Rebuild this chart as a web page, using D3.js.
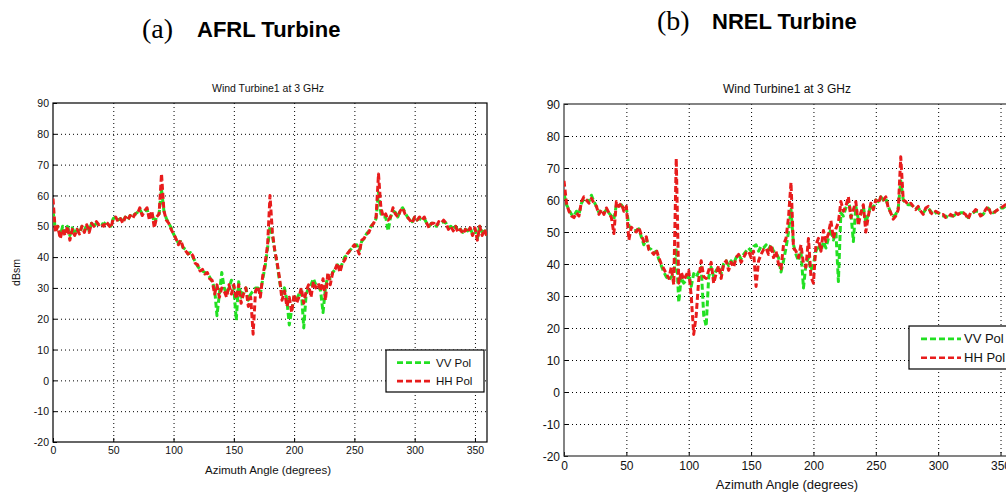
<!DOCTYPE html>
<html lang="en">
<head>
    <meta charset="UTF-8">
    <title>wind-turbine-rcs</title>
    <script src="https://cdn.jsdelivr.net/npm/d3@7"></script>
    <style>
        body{ margin: 0; background: #fff; }
        svg text{ font-family: "Liberation Sans", Arial, sans-serif; }
        .grid line{ stroke: #000; stroke-width: 1; stroke-dasharray: 1,3; }
    </style>
</head>
<body>
<svg class="graph"></svg>
<script>
    var width = 1006, height = 493;

    // azimuth samples every 2 degrees, 0..360
    var angles = d3.range(0, 361, 2);
    var xTicks = [0, 50, 100, 150, 200, 250, 300, 350];
    var yTicks = [-20, -10, 0, 10, 20, 30, 40, 50, 60, 70, 80, 90];

    // (a) AFRL turbine
    var afrlHH = [
        59, 48, 50, 46, 49, 47, 50, 45.5, 49, 47, 49, 47.5, 50, 48, 50.5, 48, 51, 50, 51.5, 50.5,
        51, 50, 51.5, 50.5, 49.5, 52.5, 53, 51.5, 52.5, 51, 53, 52, 53.5, 52.5, 54, 54, 56, 53.5, 55, 56,
        52, 55, 49.5, 53, 54, 67, 55, 52, 51, 49, 47.5, 46, 44, 45.5, 43, 42, 41, 41.5, 40.5, 38,
        37.5, 35.5, 36, 34.5, 35, 33, 32.5, 28, 31, 27, 30, 29, 27, 31, 28, 31, 26.5, 31, 25, 28,
        30, 24, 27, 15, 29, 30.5, 27, 34, 38, 44, 60, 48, 42, 38, 33, 26, 29, 24, 27, 22,
        28, 25, 27, 30, 25, 29, 31, 27, 32, 30, 31.5, 29, 33, 26, 35, 31, 35, 36, 38, 35,
        38, 39, 41, 42, 43, 44, 43, 41, 45.5, 46, 47.5, 48, 50, 51, 53, 67, 56, 53, 54, 52,
        53, 56, 54, 53, 55, 56, 54, 53, 52, 51, 53, 52, 53, 52, 53, 51, 49.5, 51, 51, 50,
        51.5, 51, 52, 51, 49, 50, 48.5, 50, 48, 49, 47.5, 49, 48, 49.5, 47, 49.5, 45.5, 50, 47, 49,
        46.5
    ];
    var afrlVV = [
        55, 49, 50, 47, 50, 48, 50, 47, 49.5, 47.5, 49, 48, 50, 48.5, 50.5, 48.5, 51, 50, 51, 50.5,
        51, 50.5, 51.5, 50.5, 50, 52.5, 53, 52, 52.5, 51.5, 53, 52, 53.5, 53, 54, 54.5, 55.5, 54, 55, 55.5,
        53, 54.5, 51, 53, 54, 62, 55, 52.5, 51, 49.5, 47.5, 46, 44.5, 45, 43, 42.5, 41, 41.5, 40, 38.5,
        37, 36, 35.5, 35, 34.5, 33.5, 32, 30, 21, 28, 35, 30, 28, 30, 32.5, 30, 19.5, 32, 27, 29,
        30, 26, 28, 29, 30, 30, 28, 33, 37, 43, 50, 47, 42, 37.5, 32, 28, 30, 26, 18, 23,
        27, 26, 28, 29, 17, 28, 30, 31, 33, 31, 31, 29, 22, 30, 34, 33, 35, 36, 37.5, 36,
        38, 40, 40.5, 42, 43, 43.5, 44, 42, 45, 46, 47.5, 48.5, 50, 51, 52.5, 61, 54, 53, 53, 48.5,
        53, 55, 54.5, 53, 55, 56, 54.5, 53, 52, 51.5, 53, 52, 52.5, 52, 52.5, 51, 50, 51, 51, 50,
        51, 51, 51.5, 51, 49.5, 50, 49, 50, 48.5, 49, 48, 49, 48.5, 49.5, 47.5, 49, 46, 50, 48, 48.5,
        47
    ];

    // (b) NREL turbine
    var nrelHH = [
        66, 59, 56.5, 55, 54.5, 56, 55, 59.5, 61, 60, 59, 60.5, 59, 58, 55.5, 57, 55.5, 57.5, 56, 54.5,
        49.5, 59.5, 58, 59, 56.5, 58, 47.5, 51.5, 50.5, 50, 51.5, 49, 47, 48.5, 44.5, 44, 43, 44.5, 42, 40,
        38.5, 37, 35.5, 39, 33.5, 73, 34, 37.5, 35, 36.5, 38, 30, 18, 24, 35, 41, 36, 35.5, 38, 40.5,
        34, 37, 39.5, 35.5, 40, 41, 38, 40.5, 39, 42, 43, 40.5, 42, 43.5, 44, 42, 44, 33, 41, 43,
        44.5, 45, 43, 46, 42, 44, 40, 38.5, 46, 48, 54.5, 65.5, 45, 44, 42, 46, 40, 39, 48, 36,
        34, 46, 48, 44, 50.5, 47, 49.5, 53.5, 48, 51, 53, 59.5, 56.5, 58, 61, 54.5, 57, 59.5, 52, 56,
        58.5, 50, 55, 59, 57, 60, 59, 61, 60, 61, 57.5, 56, 54, 55, 57, 73.5, 60, 59.5, 58.5, 59,
        58, 57, 58, 56.5, 55.5, 57.5, 58, 56, 55.5, 56.5, 56, 55.5, 55.5, 54.5, 54.5, 55.5, 55, 56, 55.5, 56,
        56, 55.5, 54, 56, 56, 57, 56.5, 55, 55.5, 57, 58, 56, 55.5, 56.5, 57, 57.5, 58, 58.5, 57, 58,
        57.5
    ];
    var nrelVV = [
        62, 58.5, 57, 55.5, 55, 56.5, 55.5, 59, 60.5, 60, 59.5, 61.5, 59.5, 58, 56, 57, 56, 57, 56, 55,
        54, 58.5, 58, 58.5, 57, 57.5, 52, 51, 50.5, 50.5, 51, 48.5, 46, 48, 45, 44.5, 43.5, 44, 41.5, 39.5,
        37.5, 36, 35, 36, 36.5, 45, 28, 36, 34, 35, 37, 33, 37, 36, 37.5, 39, 24, 20.5, 36, 39,
        36, 38, 39, 37, 40, 41, 39.5, 41, 40, 42, 43, 41.5, 43, 44, 45, 44, 45.5, 46, 44, 45.5,
        45, 46, 44.5, 46, 44, 43.5, 42, 37.5, 41, 45, 50, 57, 46, 43, 41, 44, 32.5, 40, 42, 38,
        40, 44, 46, 44, 47, 45, 48, 51, 47.5, 50, 34.5, 56, 55, 57.5, 60, 56, 47, 58, 54, 55.5,
        58, 53, 55.5, 58.5, 57.5, 60, 59.5, 61, 60, 60.5, 58, 56, 55, 55.5, 57.5, 66, 60, 59, 58.5, 58.5,
        58, 57.5, 57.5, 56.5, 56, 57, 57.5, 56.5, 55.5, 56, 56, 55.5, 55, 55, 54.5, 55, 55, 55.5, 55.5, 56,
        56, 55.5, 54.5, 55.5, 56, 56.5, 56.5, 55.5, 55.5, 56.5, 57.5, 56.5, 56, 56.5, 57, 57.5, 57.5, 58, 57.5, 58,
        57.5
    ];

    var svg = d3.select('.graph')
        .attr('width', width)
        .attr('height', height);

    // panel headers
    function header(x, y, letter, name){
        svg.append('text').attr('x', x).attr('y', y)
            .style('font-family', '"Liberation Serif", "Times New Roman", serif')
            .style('font-size', '28px').text(letter);
        svg.append('text').attr('x', x + 55).attr('y', y - 1)
            .style('font-weight', 'bold').style('font-size', '22px').text(name);
    }
    header(142, 38, '(a)', 'AFRL Turbine');
    header(657, 30, '(b)', 'NREL Turbine');

    // plain hyphen for negatives, as in the figure
    var fmt = function(d){ return String(d); };

    function drawPanel(p, vv, hh){
        var x = d3.scaleLinear().domain([0, 360]).range([p.x0, p.x1]);
        var y = d3.scaleLinear().domain([-20, 90]).range([p.y1, p.y0]);
        var g = svg.append('g');

        // dotted grid
        var grid = g.append('g').attr('class', 'grid');
        grid.selectAll('.gx').data(xTicks.slice(1)).enter().append('line')
            .attr('x1', function(d){ return x(d) + 0.5; }).attr('x2', function(d){ return x(d) + 0.5; })
            .attr('y1', p.y0).attr('y2', p.y1);
        grid.selectAll('.gy').data(yTicks.slice(1, -1)).enter().append('line')
            .attr('y1', function(d){ return y(d) + 0.5; }).attr('y2', function(d){ return y(d) + 0.5; })
            .attr('x1', p.x0).attr('x2', p.x1);

        // axes with inward ticks
        var xa = g.append('g').attr('transform', 'translate(0,' + p.y1 + ')')
            .call(d3.axisBottom(x).tickValues(xTicks).tickFormat(fmt).tickSizeInner(-4).tickSizeOuter(0).tickPadding(p.pad));
        var ya = g.append('g').attr('transform', 'translate(' + p.x0 + ',0)')
            .call(d3.axisLeft(y).tickValues(yTicks).tickFormat(fmt).tickSizeInner(-4).tickSizeOuter(0).tickPadding(p.pad - 1));
        [xa, ya].forEach(function(a){
            a.select('.domain').remove();
            a.selectAll('text').style('font-size', p.fs + 'px').style('font-family', '"Liberation Sans", Arial, sans-serif').attr('fill', '#111');
            a.selectAll('line').attr('stroke', '#000');
        });
        ya.selectAll('text').attr('dy', '0.35em');

        g.append('rect').attr('x', p.x0).attr('y', p.y0)
            .attr('width', p.x1 - p.x0).attr('height', p.y1 - p.y0)
            .attr('fill', 'none').attr('stroke', p.frame).attr('stroke-width', 1.2);

        var line = d3.line()
            .x(function(d, i){ return x(angles[i]); })
            .y(function(d){ return y(d); });

        var clipId = 'clip' + p.id;
        g.append('clipPath').attr('id', clipId).append('rect')
            .attr('x', p.x0).attr('y', p.y0).attr('width', p.x1 - p.x0).attr('height', p.y1 - p.y0);
        var lines = g.append('g').attr('clip-path', 'url(#' + clipId + ')');
        lines.append('path').datum(vv).attr('d', line)
            .attr('fill', 'none').attr('stroke', '#22e022').attr('stroke-width', 3)
            .attr('stroke-dasharray', '6,3').attr('stroke-linejoin', 'round');
        lines.append('path').datum(hh).attr('d', line)
            .attr('fill', 'none').attr('stroke', '#e81c1c').attr('stroke-width', 3)
            .attr('stroke-dasharray', '6,3').attr('stroke-linejoin', 'round');

        // titles
        g.append('text').attr('x', p.titleX).attr('y', p.y0 - 11)
            .attr('text-anchor', 'middle').style('font-size', p.fs + 'px').attr('fill', '#111')
            .text('Wind Turbine1 at 3 GHz');
        g.append('text').attr('x', p.titleX).attr('y', p.xlabY)
            .attr('text-anchor', 'middle').style('font-size', (p.fs + 1) + 'px').attr('fill', '#111')
            .text('Azimuth Angle (degrees)');
        if (p.ylab) {
            g.append('text').attr('transform', 'translate(' + p.ylabX + ',' + ((p.y0 + p.y1) / 2) + ') rotate(-90)')
                .attr('text-anchor', 'middle').style('font-size', p.fs + 'px').attr('fill', '#111')
                .text(p.ylab);
        }

        // legend
        var lg = g.append('g').attr('transform', 'translate(' + p.lx + ',' + p.ly + ')');
        lg.append('rect').attr('width', p.lw).attr('height', p.lh)
            .attr('fill', '#fff').attr('stroke', '#000').attr('stroke-width', 1.2);
        [['VV Pol', '#22e022'], ['HH Pol', '#e81c1c']].forEach(function(e, i){
            var yy = p.lh * (i === 0 ? 0.3 : 0.74);
            lg.append('line').attr('x1', p.lpad).attr('x2', p.lpad + p.llen).attr('y1', yy).attr('y2', yy)
                .attr('stroke', e[1]).attr('stroke-width', 2.6).attr('stroke-dasharray', '6,3');
            lg.append('text').attr('x', p.lpad + p.llen + 3).attr('y', yy).attr('dy', '0.35em')
                .style('font-size', (p.fs + 1) + 'px').attr('fill', '#111').text(e[0]);
        });
    }

    drawPanel({id: 'a', x0: 53, x1: 487, y0: 103, y1: 442, fs: 10.5, pad: 5, frame: '#000',
        titleX: 268, xlabY: 474, ylab: 'dBsm', ylabX: 20,
        lx: 386, ly: 350, lw: 98, lh: 42, lpad: 11, llen: 36}, afrlVV, afrlHH);
    drawPanel({id: 'b', x0: 564, x1: 1013, y0: 104, y1: 456, fs: 12, pad: 5, frame: '#333',
        titleX: 787, xlabY: 489, ylab: null,
        lx: 909, ly: 326, lw: 110, lh: 43, lpad: 12, llen: 40}, nrelVV, nrelHH);
</script>
</body>
</html>
